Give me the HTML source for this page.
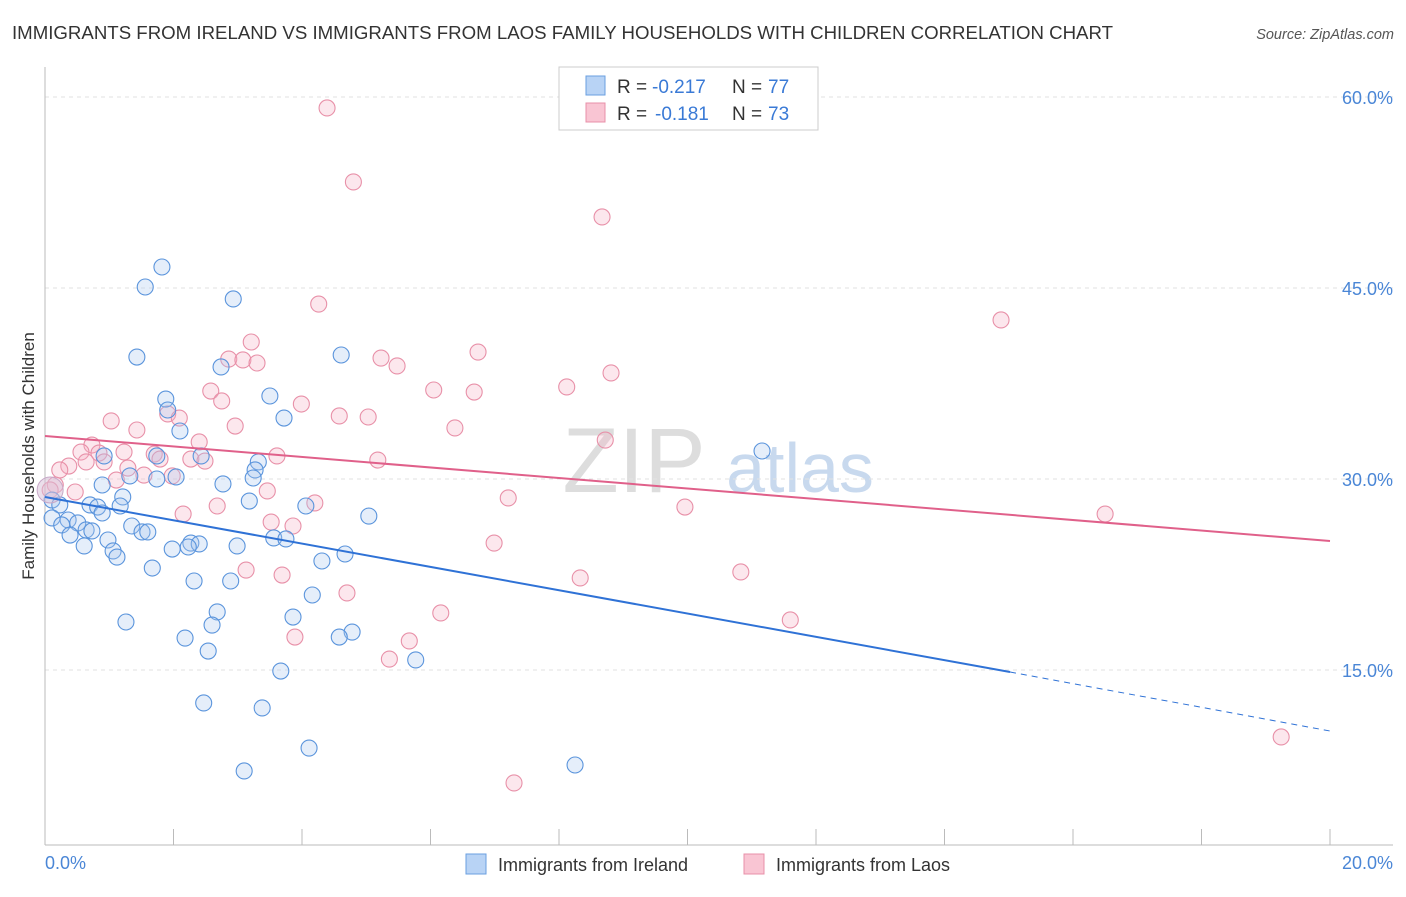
<!DOCTYPE html>
<html><head><meta charset="utf-8"><style>
body{margin:0;background:#fff;font-family:"Liberation Sans",sans-serif}
svg text{font-family:"Liberation Sans",sans-serif}
</style></head><body>
<svg id="chart" width="1406" height="892" viewBox="0 0 1406 892">
<text x="12" y="39" font-size="18" fill="#333" textLength="1101" lengthAdjust="spacingAndGlyphs">IMMIGRANTS FROM IRELAND VS IMMIGRANTS FROM LAOS FAMILY HOUSEHOLDS WITH CHILDREN CORRELATION CHART</text>
<text x="1394" y="39" font-size="14.5" fill="#555" font-style="italic" text-anchor="end">Source: ZipAtlas.com</text>
<text x="634" y="492" font-size="92" fill="#ddd" font-family="Liberation Serif" text-anchor="middle">ZIP</text>
<text x="800" y="492" font-size="70" fill="#c8d9ee" text-anchor="middle">atlas</text>
<g id="grid"></g><g id="axes"></g><g id="pts"></g><g id="trend"></g>
<text transform="translate(34,456) rotate(-90)" font-size="17" fill="#333" text-anchor="middle">Family Households with Children</text>
<text x="45" y="869" font-size="18" fill="#4a86d6">0.0%</text>
<text x="1393" y="869" font-size="18" fill="#4a86d6" text-anchor="end">20.0%</text>
<g>
<rect x="559" y="67" width="259" height="63" fill="#fff" stroke="#ccc"/>
<rect x="586" y="76" width="19" height="19" fill="#b8d3f5" stroke="#6a9fe0"/>
<rect x="586" y="103" width="19" height="19" fill="#f9c5d3" stroke="#e890a8"/>
<text x="617" y="93" font-size="19" fill="#333">R =</text>
<text x="652" y="93" font-size="19" fill="#3a7ad6">-0.217</text>
<text x="732" y="93" font-size="19" fill="#333">N =</text>
<text x="768" y="93" font-size="19" fill="#3a7ad6">77</text>
<text x="617" y="120" font-size="19" fill="#333">R =</text>
<text x="655" y="120" font-size="19" fill="#3a7ad6">-0.181</text>
<text x="732" y="120" font-size="19" fill="#333">N =</text>
<text x="768" y="120" font-size="19" fill="#3a7ad6">73</text>
</g>
<g>
<rect x="466" y="854" width="20" height="20" fill="#b8d3f5" stroke="#6a9fe0"/>
<text x="498" y="871" font-size="18" fill="#333">Immigrants from Ireland</text>
<rect x="744" y="854" width="20" height="20" fill="#f9c5d3" stroke="#e890a8"/>
<text x="776" y="871" font-size="18" fill="#333">Immigrants from Laos</text>
</g>
</svg>
<script>
const yTicks=[15,30,45,60];
const yTickLabels=["15.0%","30.0%","45.0%","60.0%"];
const xTicks=[0,2,4,6,8,10,12,14,16,18,20];
const irelandX=[1.82,1.56,2.93,1.43,4.61,2.74,3.50,1.88,1.91,3.72,2.10,11.16,0.92,1.74,2.43,3.32,3.27,2.04,1.32,3.24,1.74,0.89,2.77,1.21,0.11,3.18,0.23,0.70,1.17,0.82,4.06,0.89,0.11,0.36,0.51,0.26,5.04,1.35,0.64,0.73,1.51,1.60,0.39,0.98,3.56,3.75,0.61,2.99,2.27,2.40,2.23,1.98,1.06,4.67,1.12,4.31,1.67,2.32,2.89,4.16,2.68,3.86,1.26,2.60,4.78,2.18,4.58,2.54,5.77,3.67,2.47,3.38,4.11,8.25,3.10];
const irelandY=[46.65,45.08,44.14,39.58,39.74,38.80,36.52,36.28,35.42,34.79,33.77,32.20,31.81,31.81,31.81,31.34,30.71,30.16,30.24,30.08,30.00,29.53,29.61,28.59,28.35,28.27,27.96,27.96,27.88,27.80,27.88,27.33,26.94,26.78,26.55,26.39,27.09,26.31,26.00,25.92,25.84,25.84,25.60,25.21,25.37,25.29,24.74,24.74,24.97,24.90,24.66,24.50,24.35,24.11,23.87,23.56,23.01,21.99,21.99,20.89,19.56,19.16,18.77,18.53,17.98,17.51,17.59,16.49,15.79,14.92,12.41,12.02,8.87,7.54,7.07];
const laosX=[4.39,4.80,8.67,4.26,14.88,3.21,6.74,2.86,3.08,3.30,5.23,5.48,8.81,8.12,2.58,6.05,6.68,2.75,3.99,1.91,2.09,4.58,5.03,1.03,2.96,6.38,1.43,8.72,2.40,0.73,1.23,0.84,0.56,1.70,3.61,1.79,2.27,2.49,5.18,0.64,0.92,0.37,1.29,1.54,1.98,1.11,0.47,3.46,7.21,4.20,2.68,9.96,16.50,2.15,3.52,3.86,6.99,3.13,3.69,10.83,8.33,4.70,6.16,11.60,3.89,5.67,5.36,19.24,7.30,0.23,0.16,0.08];
const laosY=[59.14,53.33,50.58,43.74,42.49,40.76,39.97,39.42,39.35,39.11,39.50,38.88,38.33,37.23,36.91,36.99,36.83,36.13,35.89,35.11,34.79,34.95,34.87,34.56,34.16,34.01,33.85,33.06,32.91,32.67,32.12,32.04,32.12,31.96,31.81,31.57,31.57,31.41,31.49,31.34,31.34,31.02,30.86,30.31,30.24,29.92,28.98,29.06,28.51,28.12,27.88,27.80,27.25,27.25,26.62,26.31,24.97,22.85,22.46,22.70,22.23,21.05,19.48,18.93,17.59,17.28,15.86,9.74,6.13,30.71,29.53,29.14];
const irelandTrend=[28.59,14.84,10.21];
const irelandTrendX=[0,15.02,20];
const laosTrend=[33.38,25.13];
const laosTrendX=[0,20];

const NS="http://www.w3.org/2000/svg";
const sx=v=>45+v*64.25;
const sy=v=>861-v*12.733;
function mk(tag,attrs,parent){const e=document.createElementNS(NS,tag);for(const k in attrs)e.setAttribute(k,attrs[k]);document.getElementById(parent).appendChild(e);return e;}
yTicks.forEach((t,i)=>{
  const l=mk('line',{x1:45,x2:1393,y1:sy(t),y2:sy(t),stroke:'#e2e2e2','stroke-dasharray':'4,4'},'grid');
  
  
  const tx=mk('text',{x:1393,y:sy(t)+7,'font-size':18,fill:'#4a86d6','text-anchor':'end'},'grid');
  tx.textContent=yTickLabels[i];
  
  
});
const ya=mk('line',{x1:45,x2:45,y1:67,y2:845,stroke:'#bbb'},'axes');


const xa=mk('line',{x1:45,x2:1393,y1:845,y2:845,stroke:'#bbb'},'axes');


xTicks.forEach(t=>{
  const l=mk('line',{x1:sx(t),x2:sx(t),y1:829,y2:845,stroke:'#bbb'},'axes');
  
  
});
function pts(X,Y,fill,stroke,name){
  X.forEach((x,i)=>{
    const c=mk('circle',{cx:sx(x),cy:sy(Y[i]),r:8,fill:fill,'fill-opacity':0.3,stroke:stroke,'stroke-width':1.1},'pts');
    
    
  });
}
pts(laosX,laosY,'#f5b0c4','#e890a8','laos-point');
pts(irelandX,irelandY,'#a8c8f0','#5a94dc','ireland-point');
const big=mk('circle',{cx:sx(0.08),cy:sy(29.14),r:13,fill:'#d8c0d8','fill-opacity':0.5,stroke:'#c8a8c8'},'pts');


const b1=mk('line',{x1:sx(irelandTrendX[0]),y1:sy(irelandTrend[0]),x2:sx(irelandTrendX[1]),y2:sy(irelandTrend[1]),stroke:'#2f72d6','stroke-width':2},'trend');


const b2=mk('line',{x1:sx(irelandTrendX[1]),y1:sy(irelandTrend[1]),x2:sx(irelandTrendX[2]),y2:sy(irelandTrend[2]),stroke:'#2f72d6','stroke-width':1,'stroke-dasharray':'6,5'},'trend');


const p1=mk('line',{x1:sx(laosTrendX[0]),y1:sy(laosTrend[0]),x2:sx(laosTrendX[1]),y2:sy(laosTrend[1]),stroke:'#e0608a','stroke-width':2},'trend');


</script>
</body></html>
